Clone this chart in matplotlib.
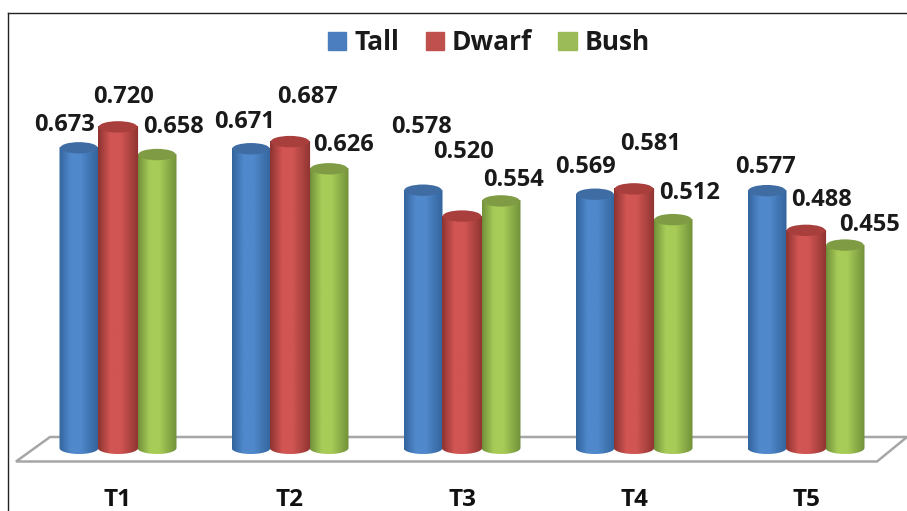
#!/usr/bin/env python3
"""Cylinder bar chart of three plant types over five treatments."""

import numpy as np
import matplotlib
matplotlib.use('Agg')
import matplotlib.pyplot as plt
import matplotlib.patches as mpatches
from matplotlib.colors import LinearSegmentedColormap
from matplotlib.lines import Line2D

W, H = 907, 511

treatments = ['T1', 'T2', 'T3', 'T4', 'T5']
tall = [0.673, 0.671, 0.578, 0.569, 0.577]
dwarf = [0.720, 0.687, 0.520, 0.581, 0.488]
bush = [0.658, 0.626, 0.554, 0.512, 0.455]

# label centres in pixels, the original has them hand placed
tall_label_px = [(65, 125), (245, 122), (421, 127), (585, 167), (765, 167)]
dwarf_label_px = [(124, 97), (307, 97), (464, 152), (651, 144), (821, 200)]
bush_label_px = [(174, 127), (344, 145), (513, 180), (690, 193), (870, 225)]

BLUE = ('#33649c', '#5089cc', '#3f6da3', '#4a7ebe')
RED = ('#8c3331', '#d15552', '#a83f3d', '#c0504d')
GREEN = ('#71903a', '#a8cc58', '#7f9c45', '#9bbb59')

# pixel scale of the chart
GROUP_PX = 172.0
X0_PX = 118.0
Y0_PX = 448.0
UNIT_PX = 446.0
AX_BOTTOM_PX = 470.0

BAR_W = 39.0 / GROUP_PX
CAP_H = 6.0 / UNIT_PX

FONT = ['Open Sans', 'DejaVu Sans']


def px_x(px):
    return (px - X0_PX) / GROUP_PX


def px_y(py):
    return (Y0_PX - py) / UNIT_PX


def draw_cylinder(ax, xc, val, colors, zorder, widen=1.0):
    edge, mid, cap, _ = colors
    w = BAR_W * widen
    x0, x1 = xc - w / 2, xc + w / 2
    cmap = LinearSegmentedColormap.from_list(
        'cyl', [(0, edge), (0.3, mid), (0.55, mid), (1, edge)])
    grad = np.linspace(0, 1, 128).reshape(1, -1)
    im = ax.imshow(grad, cmap=cmap, aspect='auto', zorder=zorder,
                   extent=(x0, x1, -CAP_H, val), interpolation='bilinear')

    t = np.linspace(np.pi, 2 * np.pi, 40)
    low = np.column_stack([xc + w / 2 * np.cos(t), CAP_H * np.sin(t)])
    t = np.linspace(0, np.pi, 40)
    high = np.column_stack([xc + w / 2 * np.cos(t), val + CAP_H * np.sin(t)])
    body = mpatches.Polygon(np.vstack([low, high]), closed=True,
                            transform=ax.transData, fc='none', ec='none')
    ax.add_patch(body)
    im.set_clip_path(body)

    ax.add_patch(mpatches.Ellipse((xc, val), w * 0.96, CAP_H * 1.9, fc=cap,
                                  ec='none', zorder=zorder + 0.1))


fig = plt.figure(figsize=(W / 100, H / 100), dpi=100)
ax = fig.add_axes([0, (H - AX_BOTTOM_PX) / H, 1, AX_BOTTOM_PX / H])

# floor of the 3D chart
floor = mpatches.Polygon(
    [(px_x(16), px_y(461.5)), (px_x(50), px_y(437)),
     (px_x(907), px_y(437)), (px_x(877), px_y(461.5))],
    closed=True, fc='white', ec='#a6a6a6', lw=1.8, zorder=1)
ax.add_patch(floor)

for i in range(len(treatments)):
    draw_cylinder(ax, i - BAR_W, tall[i], BLUE, 2)
    draw_cylinder(ax, i + BAR_W, bush[i], GREEN, 3)
    draw_cylinder(ax, i, dwarf[i], RED, 4, widen=1.03)

for vals, positions in ((tall, tall_label_px), (dwarf, dwarf_label_px),
                        (bush, bush_label_px)):
    for v, (lx, ly) in zip(vals, positions):
        ax.text(px_x(lx), px_y(ly), f'{v:.3f}', ha='center', va='center',
                fontsize=17, fontweight='bold', color='#1a1a1a', family=FONT,
                zorder=6)

ax.set_xlim(px_x(0), px_x(W))
ax.set_ylim(px_y(AX_BOTTOM_PX), px_y(0))
ax.set_xticks(range(len(treatments)))
ax.set_xticklabels(treatments, fontsize=17.5, fontweight='bold',
                   color='#111111', family=FONT)
ax.tick_params(axis='x', length=0, pad=13)
ax.set_yticks([])
for spine in ax.spines.values():
    spine.set_visible(False)

handles = [
    mpatches.Patch(color=BLUE[3], label='Tall'),
    mpatches.Patch(color=RED[3], label='Dwarf'),
    mpatches.Patch(color=GREEN[3], label='Bush'),
]
leg = ax.legend(handles=handles, ncol=3, frameon=False, loc='center',
                bbox_to_anchor=(489 / W, 1 - 43 / AX_BOTTOM_PX),
                prop={'family': FONT, 'weight': 'bold', 'size': 19},
                handlelength=0.69, handleheight=0.7, handletextpad=0.3,
                columnspacing=1.0)
for txt in leg.get_texts():
    txt.set_color('#1a1a1a')

# picture frame, only top and left show in the image
for xs, ys in (((8, 8), (13, H)), ((8, W), (13, 13))):
    fig.add_artist(Line2D([x / W for x in xs], [1 - y / H for y in ys],
                          color='#222222', lw=1.0))

fig.savefig('out.png', dpi=100, facecolor='white')
